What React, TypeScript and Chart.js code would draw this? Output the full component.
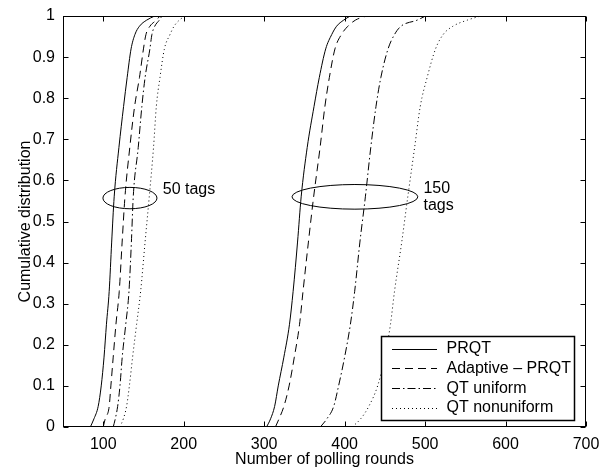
import React, { useEffect, useRef } from "react";
import { Chart, registerables } from "chart.js";

Chart.register(...registerables);

// cumulative levels at which the curves were read
const cdfLevels = [0, 0.02, 0.05, 0.1, 0.17, 0.25, 0.33, 0.45, 0.56, 0.68, 0.78, 0.85, 0.92, 0.955, 0.975, 0.99, 1];

// polling rounds reaching each level, 50 tags
const prqt50 = [84, 88.5, 93.7, 97.5, 101, 104, 107.4, 110.5, 113.6, 119.5, 125.3, 129.7, 134.6, 139.4, 145, 154, 164];
const adaptive50 = [100, 102.5, 107.4, 109.5, 112.4, 115.8, 119.9, 123.5, 127, 133, 139, 145, 150, 153.1, 158, 166, 170.5];
const qtUniform50 = [112.4, 115, 117.9, 120.8, 123.6, 128, 132, 135, 137.3, 143.5, 148, 152, 158, 160.5, 164, 169.7, 173];
const qtNonuniform50 = [120.7, 125, 129, 132.5, 136.5, 141.5, 146.5, 152, 157.2, 162.5, 166, 170.5, 176, 183, 188, 194.6, 201.7];

// polling rounds reaching each level, 150 tags
const prqt150 = [303, 308, 313, 317.5, 324.5, 331.5, 336, 341.5, 346, 353.5, 362, 368.5, 376.5, 384, 390, 398.8, 407];
const adaptive150 = [314, 318.5, 324.5, 331, 337.5, 344, 348.3, 355, 361.5, 369.5, 375.5, 381, 388, 396, 404, 413.4, 427];
const qtUniform150 = [369.8, 378, 386.4, 392.5, 400, 407.2, 412.5, 419, 425.8, 432.5, 439, 445, 454, 462, 470, 490.2, 500.6];
const qtNonuniform150 = [409.3, 420, 430, 441, 450, 457, 462, 471, 478.5, 487, 494, 502.5, 513, 522.5, 534.5, 552.5, 569];

const seriesNames = ["PRQT", "Adaptive \u2013 PRQT", "QT uniform", "QT nonuniform"];
const xTicks = [100, 200, 300, 400, 500, 600, 700];
const yTicks = [0, 0.1, 0.2, 0.3, 0.4, 0.5, 0.6, 0.7, 0.8, 0.9, 1];

// ellipse marks: [centre rounds, centre level, half-width rounds, half-height level]
const groupEllipses = [
  [133.2, 0.557, 33.6, 0.026],
  [412.8, 0.56, 78.2, 0.03],
];
const groupLabels = [
  { x: 174, y: 0.577, text: "50 tags" },
  { x: 498, y: 0.581, text: "150" },
  { x: 498, y: 0.538, text: "tags" },
];

const dashStyles = [[], [8, 5], [8, 3, 1.5, 3], [1, 3]];
const FONT = "'Liberation Sans', Arial, Helvetica, sans-serif";
const FONT_SIZE = 16;

const toPoints = (xs: number[]) => xs.map((x, i) => ({ x, y: cdfLevels[i] }));

// box, inward ticks, ellipses, labels and legend like the matlab figure
const decorations = {
  id: "decorations",
  afterDatasetsDraw(chart: any) {
    const { ctx, chartArea: a, scales } = chart;
    const xs = scales.x;
    const ys = scales.y;
    const L = Math.round(a.left) + 0.5;
    const R = Math.round(a.right) - 0.5;
    const T = Math.round(a.top) + 0.5;
    const B = Math.round(a.bottom) - 0.5;
    ctx.save();
    ctx.strokeStyle = "#000";
    ctx.lineWidth = 1;
    ctx.setLineDash([]);
    ctx.strokeRect(L, T, R - L, B - T);

    ctx.beginPath();
    xTicks.forEach((v) => {
      const px = Math.round(xs.getPixelForValue(v)) + 0.5;
      ctx.moveTo(px, B);
      ctx.lineTo(px, B - 5);
      ctx.moveTo(px, T);
      ctx.lineTo(px, T + 5);
    });
    yTicks.forEach((v) => {
      const py = Math.round(ys.getPixelForValue(v)) + 0.5;
      ctx.moveTo(L, py);
      ctx.lineTo(L + 5, py);
      ctx.moveTo(R, py);
      ctx.lineTo(R - 5, py);
    });
    ctx.stroke();

    groupEllipses.forEach(([cx, cy, rx, ry]) => {
      const px = xs.getPixelForValue(cx);
      const py = ys.getPixelForValue(cy);
      const w = Math.abs(xs.getPixelForValue(cx + rx) - px);
      const h = Math.abs(ys.getPixelForValue(cy + ry) - py);
      ctx.beginPath();
      ctx.ellipse(px, py, w, h, 0, 0, Math.PI * 2);
      ctx.stroke();
    });

    ctx.fillStyle = "#000";
    ctx.font = `${FONT_SIZE}px ${FONT}`;
    ctx.textBaseline = "middle";
    ctx.textAlign = "left";
    groupLabels.forEach((l) => {
      ctx.fillText(l.text, xs.getPixelForValue(l.x), ys.getPixelForValue(l.y));
    });

    // legend, lower right
    const boxL = 381.5;
    const boxR = 574.5;
    const boxT = 336.5;
    const boxB = 420.5;
    ctx.fillStyle = "#fff";
    ctx.fillRect(boxL, boxT, boxR - boxL, boxB - boxT);
    ctx.lineWidth = 1.5;
    ctx.strokeRect(boxL, boxT, boxR - boxL, boxB - boxT);
    ctx.lineWidth = 1;
    seriesNames.forEach((name, i) => {
      const rowY = 348.5 + i * 19.8;
      ctx.beginPath();
      ctx.setLineDash(dashStyles[i]);
      ctx.moveTo(392, Math.round(rowY) + 0.5);
      ctx.lineTo(437, Math.round(rowY) + 0.5);
      ctx.stroke();
      ctx.setLineDash([]);
      ctx.fillStyle = "#000";
      ctx.fillText(name, 446.5, rowY);
    });
    ctx.restore();
  },
};

const App: React.FC = () => {
  const canvasRef = useRef<HTMLCanvasElement | null>(null);
  const chartRef = useRef<Chart | null>(null);

  useEffect(() => {
    document.body.style.margin = "0";
    if (!canvasRef.current) return;
    if (chartRef.current) chartRef.current.destroy();

    const groups = [
      [prqt50, adaptive50, qtUniform50, qtNonuniform50],
      [prqt150, adaptive150, qtUniform150, qtNonuniform150],
    ];
    const datasets: any[] = [];
    groups.forEach((group, g) => {
      group.forEach((xs, i) => {
        datasets.push({
          label: `${seriesNames[i]} ${g}`,
          data: toPoints(xs),
          borderColor: "#000",
          borderWidth: 1,
          borderDash: dashStyles[i],
          pointRadius: 0,
          fill: false,
          cubicInterpolationMode: "monotone",
        });
      });
    });

    const font = { family: FONT, size: FONT_SIZE };

    chartRef.current = new Chart(canvasRef.current, {
      type: "line",
      data: { datasets },
      options: {
        responsive: false,
        animation: false,
        layout: { padding: { left: 0, right: 14, top: 16, bottom: 0 } },
        plugins: {
          legend: { display: false },
          tooltip: { enabled: false },
        },
        scales: {
          x: {
            type: "linear",
            min: 50,
            max: 700,
            afterBuildTicks: (s: any) => {
              s.ticks = xTicks.map((v) => ({ value: v }));
            },
            afterFit: (s: any) => {
              s.height = 43;
              s.paddingLeft = 0;
              s.paddingRight = 0;
            },
            grid: { display: false, drawTicks: false },
            border: { display: false },
            ticks: { color: "#000", font, padding: 8, maxRotation: 0, callback: (v: any) => String(v) },
            title: {
              display: true,
              text: "Number of polling rounds",
              color: "#000",
              font,
              padding: { top: 0, bottom: 1 },
            },
          },
          y: {
            type: "linear",
            min: 0,
            max: 1,
            afterBuildTicks: (s: any) => {
              s.ticks = yTicks.map((v) => ({ value: v }));
            },
            afterFit: (s: any) => {
              s.width = 63;
              s.paddingTop = 0;
              s.paddingBottom = 0;
            },
            grid: { display: false, drawTicks: false },
            border: { display: false },
            ticks: { color: "#000", font, padding: 8, callback: (v: any) => String(v) },
            title: {
              display: true,
              text: "Cumulative distribution",
              color: "#000",
              font,
              padding: { top: 16, bottom: 0 },
            },
          },
        },
      } as any,
      plugins: [decorations],
    });

    return () => {
      if (chartRef.current) {
        chartRef.current.destroy();
        chartRef.current = null;
      }
    };
  }, []);

  return (
    <div style={{ width: 600, height: 470, background: "#fff" }}>
      <canvas ref={canvasRef} width={600} height={470}></canvas>
    </div>
  );
};

export default App;
